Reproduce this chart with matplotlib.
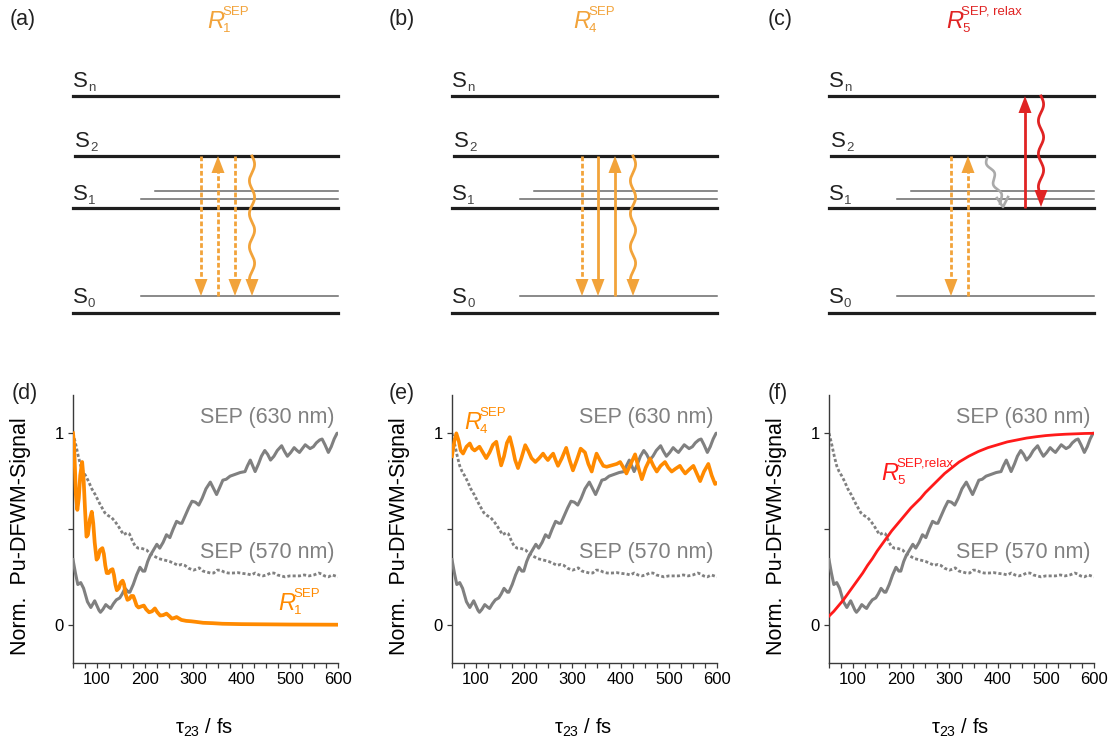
import numpy as np
import matplotlib
matplotlib.use('Agg')
import matplotlib.pyplot as plt

plt.rcParams['font.family'] = ['Liberation Sans', 'DejaVu Sans']
plt.rcParams['mathtext.fontset'] = 'custom'
plt.rcParams['mathtext.rm'] = 'Liberation Sans'
plt.rcParams['mathtext.it'] = 'Liberation Sans:italic'

W, H = 1114, 738

# ---------------- data ----------------
t_sep630 = [50, 55, 60, 66, 72, 80, 87, 95, 104, 107, 112, 118, 125, 128, 134, 140, 147, 152,
            158, 165, 168, 175, 182, 189, 195, 199, 205, 210, 217, 224, 230, 237, 244, 251,
            258, 265, 272, 276, 283, 290, 297, 304, 311, 318, 326, 335, 342, 348, 355, 361,
            368, 376, 386, 397, 407, 412, 418, 423, 428, 435, 441, 448, 454, 460, 467, 474,
            483, 489, 495, 502, 509, 515, 520, 526, 532, 537, 542, 549, 555, 562, 567, 573,
            580, 586, 592, 598, 600]
sep630 = [0.34, 0.27, 0.21, 0.22, 0.19, 0.12, 0.09, 0.125, 0.075, 0.065, 0.08, 0.105, 0.09,
          0.085, 0.11, 0.13, 0.14, 0.16, 0.19, 0.17, 0.17, 0.21, 0.26, 0.30, 0.28, 0.28, 0.33,
          0.36, 0.39, 0.42, 0.40, 0.43, 0.47, 0.455, 0.50, 0.54, 0.53, 0.53, 0.57, 0.61, 0.645,
          0.64, 0.625, 0.66, 0.71, 0.745, 0.71, 0.68, 0.72, 0.755, 0.76, 0.776, 0.785, 0.795,
          0.80, 0.83, 0.86, 0.83, 0.80, 0.84, 0.88, 0.91, 0.89, 0.86, 0.88, 0.91, 0.935, 0.905,
          0.88, 0.90, 0.925, 0.91, 0.90, 0.92, 0.94, 0.93, 0.92, 0.93, 0.95, 0.965, 0.97, 0.94,
          0.90, 0.93, 0.97, 1.0, 1.0]

t_sep570 = [50, 55, 61, 66, 71, 77, 82, 89, 96, 106, 116, 123, 130, 137, 144, 150, 155, 162,
            167, 173, 179, 185, 191, 197, 203, 210, 220, 228, 236, 244, 251, 260, 268, 276,
            282, 290, 300, 306, 312, 320, 328, 335, 342, 349, 356, 364, 372, 382, 392, 402,
            412, 420, 428, 436, 444, 452, 460, 467, 474, 482, 490, 500, 510, 520, 530, 540,
            550, 560, 566, 572, 580, 588, 594, 600]
sep570 = [1.0, 0.95, 0.88, 0.83, 0.80, 0.775, 0.75, 0.71, 0.68, 0.63, 0.585, 0.57, 0.56, 0.54,
          0.515, 0.49, 0.47, 0.48, 0.475, 0.44, 0.41, 0.40, 0.40, 0.395, 0.39, 0.37, 0.356,
          0.345, 0.34, 0.335, 0.33, 0.32, 0.31, 0.315, 0.31, 0.295, 0.285, 0.29, 0.297, 0.28,
          0.275, 0.27, 0.27, 0.285, 0.285, 0.275, 0.27, 0.27, 0.272, 0.268, 0.265, 0.26, 0.27,
          0.26, 0.255, 0.26, 0.27, 0.27, 0.26, 0.255, 0.25, 0.255, 0.255, 0.255, 0.26, 0.255,
          0.26, 0.27, 0.265, 0.255, 0.25, 0.26, 0.255, 0.25]

t_r1 = [50, 52, 54, 56, 59, 62, 65, 69, 72, 75, 78, 81, 85, 89, 92, 95, 99, 102, 106, 111, 114,
        117, 120, 124, 128, 132, 135, 138, 141, 145, 149, 153, 156, 159, 163, 167, 171, 175,
        178, 182, 186, 191, 197, 202, 208, 214, 220, 225, 231, 237, 244, 250, 255, 260, 265,
        275, 285, 295, 305, 320, 340, 360, 380, 400, 450, 500, 600]
r1 = [1.0, 0.95, 0.82, 0.68, 0.60, 0.66, 0.78, 0.85, 0.76, 0.60, 0.46, 0.47, 0.55, 0.59, 0.53,
      0.43, 0.34, 0.35, 0.39, 0.40, 0.37, 0.31, 0.27, 0.27, 0.285, 0.29, 0.26, 0.21, 0.18, 0.19,
      0.22, 0.23, 0.21, 0.16, 0.13, 0.135, 0.15, 0.15, 0.13, 0.10, 0.09, 0.095, 0.10, 0.08,
      0.065, 0.07, 0.085, 0.065, 0.048, 0.05, 0.058, 0.045, 0.032, 0.035, 0.04, 0.025, 0.02,
      0.018, 0.015, 0.01, 0.008, 0.005, 0.004, 0.003, 0.002, 0.001, 0.0]

t_r4 = [50, 55, 59, 64, 68, 73, 80, 87, 92, 97, 102, 107, 114, 121, 128, 135, 142, 147, 152,
        158, 164, 170, 176, 181, 187, 194, 202, 208, 215, 223, 231, 239, 244, 249, 255, 260,
        265, 270, 278, 287, 294, 301, 309, 317, 326, 333, 340, 345, 350, 357, 364, 371, 378,
        385, 392, 399, 406, 412, 421, 430, 437, 444, 452, 461, 468, 475, 483, 492, 499, 506,
        514, 523, 528, 534, 542, 551, 558, 565, 573, 582, 589, 596, 600]
r4 = [0.88, 0.96, 1.0, 0.96, 0.91, 0.894, 0.93, 0.947, 0.92, 0.91, 0.92, 0.93, 0.90, 0.87,
      0.90, 0.94, 0.956, 0.89, 0.832, 0.88, 0.95, 0.98, 0.92, 0.86, 0.818, 0.87, 0.938, 0.91,
      0.87, 0.85, 0.87, 0.894, 0.875, 0.86, 0.88, 0.894, 0.86, 0.83, 0.87, 0.924, 0.86, 0.806,
      0.86, 0.92, 0.90, 0.84, 0.80, 0.85, 0.894, 0.86, 0.83, 0.825, 0.83, 0.835, 0.84, 0.85,
      0.82, 0.79, 0.84, 0.89, 0.82, 0.76, 0.82, 0.868, 0.83, 0.80, 0.83, 0.85, 0.82, 0.80,
      0.815, 0.83, 0.81, 0.79, 0.81, 0.83, 0.79, 0.75, 0.80, 0.84, 0.78, 0.735, 0.74]

t_r5 = [50, 60, 70, 80, 90, 100, 110, 120, 130, 140, 150, 160, 170, 180, 190, 200, 210, 220,
        230, 240, 250, 260, 270, 280, 290, 300, 320, 340, 360, 380, 400, 420, 440, 460, 480,
        500, 520, 540, 560, 580, 600]
r5 = [0.045, 0.07, 0.10, 0.13, 0.165, 0.20, 0.235, 0.27, 0.31, 0.345, 0.385, 0.42, 0.455, 0.49,
      0.52, 0.55, 0.58, 0.61, 0.635, 0.66, 0.69, 0.715, 0.74, 0.765, 0.79, 0.81, 0.85, 0.88,
      0.905, 0.925, 0.94, 0.955, 0.965, 0.975, 0.982, 0.988, 0.992, 0.995, 0.997, 0.999, 1.0]

x_major = [100, 200, 300, 400, 500, 600]
y_ticks = [0, 0.5, 1]
y_ticklabels = ['0', '', '1']
panel_letters_top = ['(a)', '(b)', '(c)']
panel_letters_bottom = ['(d)', '(e)', '(f)']
state_labels = [('S', 'n'), ('S', '2'), ('S', '1'), ('S', '0')]

# ---------------- styles ----------------
ORANGE = '#FF8A00'
ORANGE_D = '#F2A33A'
RED = '#FF1A1A'
RED_D = '#E02424'
GRAY = '#808080'

fig = plt.figure(figsize=(W / 100, H / 100), dpi=100)

axes_px = [(73, 338), (452, 717), (829, 1094)]
ax_top, ax_bot = 395, 663
axes = []
for (l, r) in axes_px:
    ax = fig.add_axes([l / W, 1 - ax_bot / H, (r - l) / W, (ax_bot - ax_top) / H])
    ax.set_xlim(50, 600)
    ax.set_ylim(-0.2, 1.2)
    for s in ['top', 'right']:
        ax.spines[s].set_visible(False)
    for s in ['left', 'bottom']:
        ax.spines[s].set_color('#3a3a3a')
        ax.spines[s].set_linewidth(1.0)
    ax.set_xticks(x_major)
    ax.set_xticks(np.arange(50, 601, 25), minor=True)
    ax.set_yticks(y_ticks)
    ax.set_yticklabels(y_ticklabels)
    ax.tick_params(which='both', direction='out', length=3.5, width=0.9, color='#3a3a3a',
                   labelsize=12, pad=3)
    ax.set_ylabel('Norm.  Pu-DFWM-Signal', fontsize=15.5)
    ax.yaxis.set_label_coords(-0.16, 0.475)
    ax.set_xlabel(r'$\mathrm{\tau}_{23}$ / fs', fontsize=14.5)
    ax.xaxis.set_label_coords(0.494, -0.2)
    ax.plot(t_sep570, sep570, color=GRAY, lw=2.0, dashes=(1.1, 0.8), zorder=2)
    ax.plot(t_sep630, sep630, color=GRAY, lw=2.2, zorder=3, solid_joinstyle='round')
    ax.text(593, 1.08, 'SEP (630 nm)', ha='right', va='center', color=GRAY, fontsize=15.5)
    ax.text(593, 0.375, 'SEP (570 nm)', ha='right', va='center', color=GRAY, fontsize=15.5)
    axes.append(ax)

axes[0].plot(t_r1, r1, color=ORANGE, lw=2.7, zorder=4, solid_joinstyle='round')
axes[1].plot(t_r4, r4, color=ORANGE, lw=2.6, zorder=4, solid_joinstyle='round')
axes[2].plot(t_r5, r5, color=RED, lw=2.0, zorder=4)

# ---------------- overlay for diagrams and labels (pixel coordinates) ----------------
dax = fig.add_axes([0, 0, 1, 1])
dax.set_xlim(0, W)
dax.set_ylim(H, 0)
dax.axis('off')


def rlabel(x, y, sub, sup, color, size=17, ssize=9.5):
    dax.text(x, y, 'R', style='italic', color=color, fontsize=size, ha='left', va='baseline')
    dax.text(x + 15, y - 13, sup, color=color, fontsize=ssize, ha='left', va='baseline')
    dax.text(x + 16, y + 4, sub, color=color, fontsize=ssize, ha='left', va='baseline')


def head(x, ytip, direction, color, w=13, h=17):
    dax.fill([x - w / 2, x + w / 2, x], [ytip - direction * h, ytip - direction * h, ytip],
             color=color, lw=0, zorder=5)


def straight(x, y0, y1, color, dashed=False, lw=2.0):
    d = 1 if y1 > y0 else -1
    ye = y1 - d * 12
    kw = dict(dashes=(1.7, 0.9)) if dashed else {}
    dax.plot([x, x], [y0, ye], color=color, lw=lw, solid_capstyle='butt', **kw)
    head(x, y1, d, color)


def wavy(x, y0, y1, color, amp=2.6, lam=33, lw=2.0):
    ye = y1 - 12
    ys = np.linspace(y0, ye, 300)
    xs = x + amp * np.sin(2 * np.pi * (ys - y0) / lam)
    dax.plot(xs, ys, color=color, lw=lw)
    head(x, y1, 1, color)


level_y = {'n': 96, '2': 156, 's1a': 191, 's1b': 199, '1': 208, 's0': 296, '0': 313}
for i, off in enumerate([73, 452, 829]):
    R = off + 265
    dax.plot([off, R], [level_y['n']] * 2, color='#1e1e1e', lw=2.3)
    dax.plot([off + 2, R], [level_y['2']] * 2, color='#1e1e1e', lw=2.3)
    dax.plot([off + 82, R], [level_y['s1a']] * 2, color='#6a6a6a', lw=1.1)
    dax.plot([off + 68, R], [level_y['s1b']] * 2, color='#6a6a6a', lw=1.1)
    dax.plot([off, R], [level_y['1']] * 2, color='#1e1e1e', lw=2.3)
    dax.plot([off + 68, R], [level_y['s0']] * 2, color='#6a6a6a', lw=1.1)
    dax.plot([off, R], [level_y['0']] * 2, color='#1e1e1e', lw=2.3)
    for (S, sub), yb, dx in zip(state_labels, [87, 147, 200, 303], [0, 2, 0, 0]):
        dax.text(off + dx, yb, S, fontsize=16, color='#222222', va='baseline')
        dax.text(off + dx + 15, yb + 4, sub, fontsize=9.5, color='#444444', va='baseline')

# (a)
o = 73
straight(o + 128, 156, 296, ORANGE_D, dashed=True)
straight(o + 145, 296, 156, ORANGE_D, dashed=True)
straight(o + 162, 156, 296, ORANGE_D, dashed=True)
wavy(o + 179, 156, 296, ORANGE_D)
# (b)
o = 452
straight(o + 130, 156, 296, ORANGE_D, dashed=True)
straight(o + 146, 156, 296, ORANGE_D)
straight(o + 163, 296, 156, ORANGE_D)
wavy(o + 181, 156, 296, ORANGE_D)
# (c)
o = 829
straight(o + 122, 156, 296, ORANGE_D, dashed=True)
straight(o + 139, 296, 156, ORANGE_D, dashed=True)
straight(o + 196, 208, 96, RED_D)
wavy(o + 212, 96, 207, RED_D)
# gray relaxation wavy (diagonal)
p0 = np.array([o + 158, 158.0])
p1 = np.array([o + 173, 203.0])
s = np.linspace(0, 1, 200)
vec = p1 - p0
L = np.hypot(*vec)
nrm = np.array([-vec[1], vec[0]]) / L
pts = p0[None, :] + s[:, None] * vec[None, :] + (2.5 * np.sin(2 * np.pi * s * L / 22))[:, None] * nrm[None, :]
dax.plot(pts[:, 0], pts[:, 1], color='#aaaaaa', lw=1.9)
tip = p1 + np.array([1.0, 4.0])
dax.plot([tip[0] - 6, tip[0], tip[0] + 5], [tip[1] - 9, tip[1], tip[1] - 10], color='#aaaaaa', lw=1.9)

# titles
for x, lab in zip([10, 389, 768], panel_letters_top):
    dax.text(x, 19, lab, fontsize=15.5, color='#222222', va='center')
for x, lab in zip([12, 389, 768], panel_letters_bottom):
    dax.text(x, 394, lab, fontsize=15.5, color='#222222', va='center')

rlabel(207, 28, '1', 'SEP', ORANGE_D)
rlabel(573, 28, '4', 'SEP', ORANGE_D)
rlabel(946, 28, '5', 'SEP, relax', RED_D)

rlabel(278, 610, '1', 'SEP', ORANGE)
rlabel(464, 429, '4', 'SEP', ORANGE)
rlabel(881, 480, '5', 'SEP,relax', RED)

fig.savefig('out.png', dpi=100)
